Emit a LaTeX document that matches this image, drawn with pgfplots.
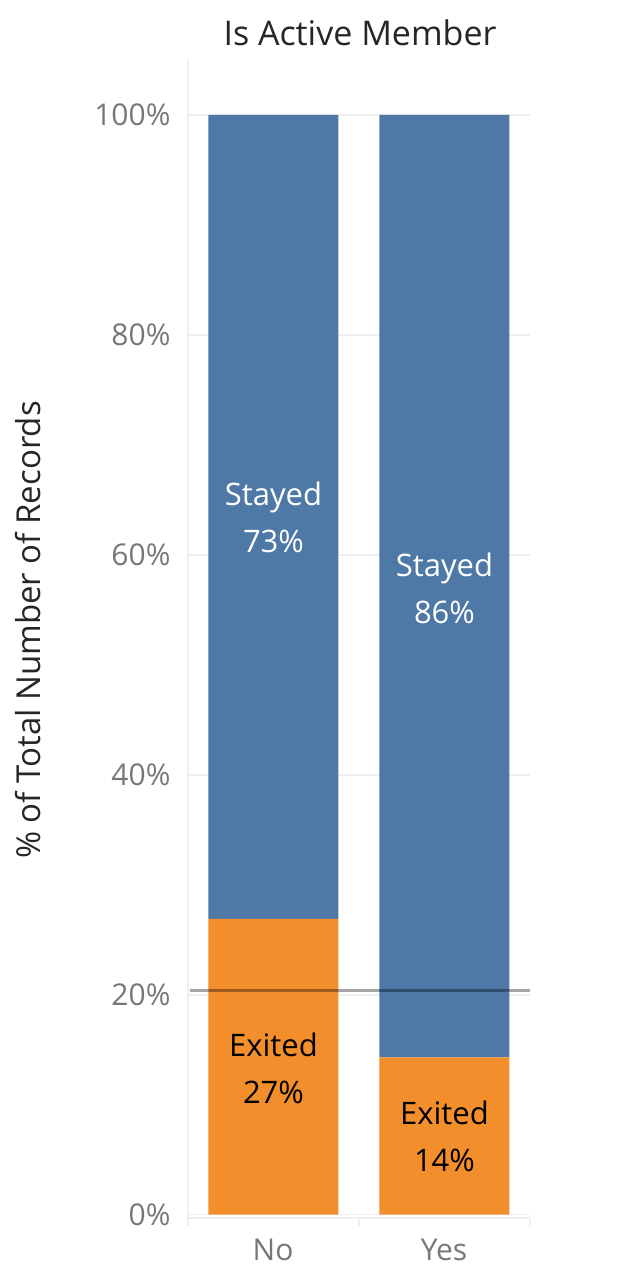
\documentclass[border=0pt]{standalone}
\usepackage{pgfplots}
\pgfplotsset{compat=1.18}
\usepackage{fontspec}
\setmainfont{Open Sans}
\definecolor{tblue}{HTML}{4E79A7}
\definecolor{torange}{HTML}{F28E2B}
\definecolor{tgrid}{HTML}{EFEFEF}
\definecolor{ttick}{HTML}{777777}
\begin{document}
\begin{tikzpicture}
\useasboundingbox (-188pt,-52pt) rectangle (456pt,1218pt);
\begin{axis}[
  scale only axis, width=342pt, height=1158pt,
  at={(0pt,0pt)}, anchor=south west,
  xmin=-0.5, xmax=1.5, ymin=-0.3, ymax=105,
  ybar stacked, bar width=130pt,
  axis line style={draw=none},
  xtick=\empty,
  ytick={0,20,40,60,80,100},
  yticklabels={0\%,20\%,40\%,60\%,80\%,100\%},
  yticklabel style={anchor=east, xshift=-14pt, font=\fontsize{30}{34}\selectfont, text=ttick},
  /pgf/number format/assume math mode=true,
  major tick length=0pt,
  ymajorgrids, grid style={tgrid, line width=1.5pt},
  clip=false,
]
\addplot[fill=torange, draw=none] coordinates {(0,26.9) (1,14.3)};
\addplot[fill=tblue, draw=none] coordinates {(0,73.1) (1,85.7)};
\end{axis}
\draw[black, opacity=0.35, line width=3pt] (2pt,227pt) -- (342pt,227pt);
\draw[tgrid, line width=1.5pt] (0pt,0pt) -- (0pt,1158pt);
\draw[tgrid, line width=1.5pt] (0pt,0pt) -- (342pt,0pt);
\foreach \x in {0,171,342} \draw[tgrid, line width=1.5pt] (\x pt,0pt) -- (\x pt,-8pt);
\node[align=center, text=white, font=\fontsize{31}{47}\selectfont] at (85.5pt,701pt) {Stayed\\73\%};
\node[align=center, text=white, font=\fontsize{31}{47}\selectfont] at (256.5pt,630pt) {Stayed\\86\%};
\node[align=center, text=black, font=\fontsize{31}{47}\selectfont] at (85.5pt,150pt) {Exited\\27\%};
\node[align=center, text=black, font=\fontsize{31}{47}\selectfont] at (256.5pt,82pt) {Exited\\14\%};
\node[font=\fontsize{30}{34}\selectfont, text=ttick] at (85pt,-32pt) {No};
\node[font=\fontsize{30}{34}\selectfont, text=ttick] at (256pt,-32pt) {Yes};
\node[font=\fontsize{34}{40}\selectfont, text=black!85] at (172pt,1185pt) {Is Active Member};
\node[rotate=90, font=\fontsize{33}{40}\selectfont, text=black!85] at (-160pt,588pt) {\% of Total Number of Records};
\end{tikzpicture}
\end{document}
